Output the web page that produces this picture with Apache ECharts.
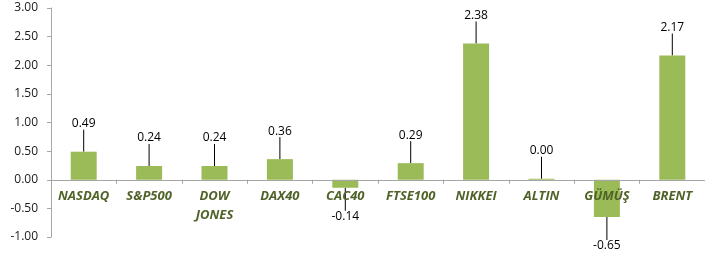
<!DOCTYPE html>
<html>
<head>
<meta charset="utf-8">
<script src="https://cdn.jsdelivr.net/npm/echarts@6/dist/echarts.min.js"></script>
<style>
    html, body { margin: 0; padding: 0; background: #fff; }
    #chart { width: 705px; height: 258px; }
</style>
</head>
<body>
<div id="chart"></div>
<script>
    // 分类与数值
    const categories = ['NASDAQ', 'S&P500', 'DOW\nJONES', 'DAX40', 'CAC40', 'FTSE100', 'NIKKEI', 'ALTIN', 'GÜMÜŞ', 'BRENT'];
    const values = [0.49, 0.24, 0.24, 0.36, -0.14, 0.29, 2.38, 0.00, -0.65, 2.17];
    const yTicks = [-1, -0.5, 0, 0.5, 1, 1.5, 2, 2.5, 3];

    const axisGray = '#a6a6a6';
    const font = '"Open Sans", "Liberation Sans", sans-serif';

    const gridTop = 8, gridBottom = 21, chartH = 258;
    const yMin = yTicks[0], yMax = yTicks[yTicks.length - 1];
    // 分类轴放在 0 值处
    const zeroOffset = -(chartH - gridTop - gridBottom) * (0 - yMin) / (yMax - yMin);

    const chart = echarts.init(document.getElementById('chart'), null, {renderer: 'canvas'});

    const option = {
        animation: false,
        textStyle: {fontFamily: font},
        grid: {
            left: 51,
            right: 0,
            top: gridTop,
            bottom: gridBottom,
            containLabel: false,
            outerBoundsMode: 'none'
        },
        xAxis: {
            type: 'category',
            data: categories,
            position: 'bottom',
            offset: zeroOffset,
            z: 5,
            axisLine: {onZero: false, lineStyle: {color: axisGray, width: 1}},
            axisTick: {show: true, alignWithLabel: false, length: 4, lineStyle: {color: axisGray}},
            axisLabel: {
                interval: 0,
                margin: 7,
                color: '#4f6228',
                fontFamily: font,
                fontStyle: 'italic',
                fontWeight: 'bold',
                fontSize: 13,
                lineHeight: 19,
                hideOverlap: false
            },
            splitLine: {show: false}
        },
        yAxis: {
            type: 'value',
            min: yMin,
            max: yMax,
            interval: 0.5,
            axisLine: {show: true, lineStyle: {color: axisGray, width: 1}},
            axisTick: {show: true, length: 4, lineStyle: {color: axisGray}},
            axisLabel: {
                margin: 13,
                color: '#1a1a1a',
                fontFamily: font,
                fontSize: 12,
                formatter: function (v) {
                    return v.toFixed(2);
                }
            },
            splitLine: {show: false}
        },
        series: [{
            type: 'bar',
            data: values,
            barWidth: 26,
            barMinHeight: 1,
            itemStyle: {color: '#9bbb59'},
            label: {
                show: true,
                position: 'outside',
                distance: 5,
                color: '#000',
                fontFamily: font,
                fontSize: 12,
                formatter: function (p) {
                    return p.value.toFixed(2);
                }
            },
            labelLayout: function (p) {
                return {dy: values[p.dataIndex] < 0 ? 18 : -17};
            },
            labelLine: {
                show: true,
                lineStyle: {color: '#000', width: 1}
            }
        }]
    };

    chart.setOption(option);
</script>
</body>
</html>
